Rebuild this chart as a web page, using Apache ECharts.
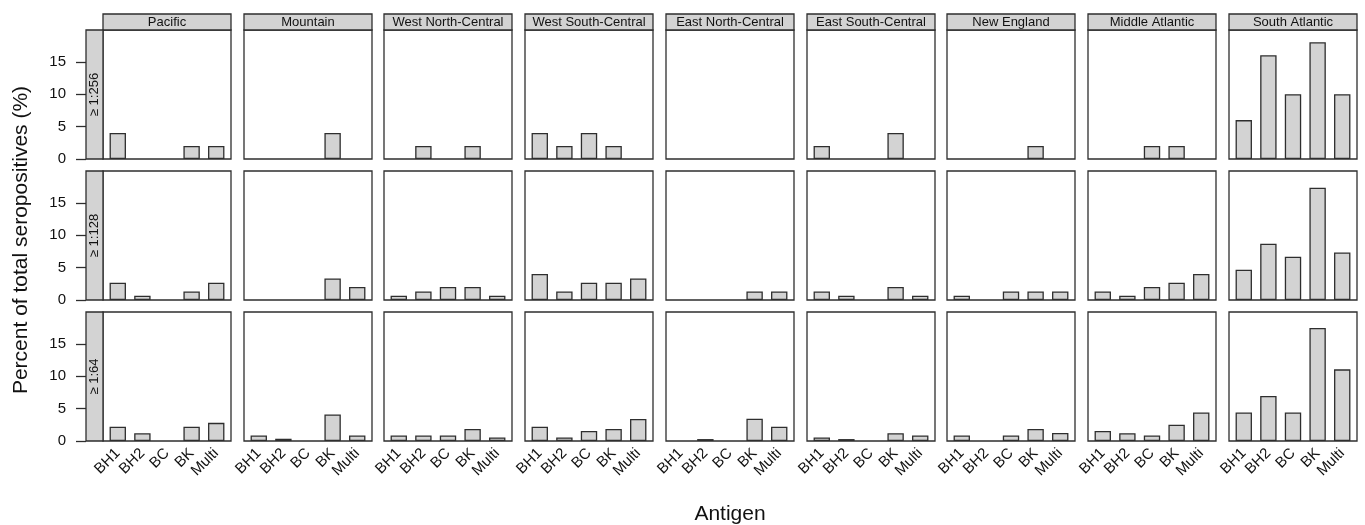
<!DOCTYPE html>
<html><head><meta charset="utf-8">
<script src="https://cdn.jsdelivr.net/npm/echarts@6/dist/echarts.min.js"></script>
<style>html,body{margin:0;padding:0;background:#fff}#c{width:1365px;height:525px}</style>
</head><body><div id="c"></div>
<script>
// ---- data ----
const antigens = ['BH1', 'BH2', 'BC', 'BK', 'Multi'];
const regions = ['Pacific', 'Mountain', 'West North-Central', 'West South-Central',
  'East North-Central', 'East South-Central', 'New England', 'Middle Atlantic', 'South Atlantic'];
const titers = ['\u2265 1:256', '\u2265 1:128', '\u2265 1:64'];
const yTicks = [0, 5, 10, 15];

// values per region, order as in regions; each inner list follows antigens
const titer256 = [
  [4, 0, 0, 2, 2],
  [0, 0, 0, 4, 0],
  [0, 2, 0, 2, 0],
  [4, 2, 4, 2, 0],
  [0, 0, 0, 0, 0],
  [2, 0, 0, 4, 0],
  [0, 0, 0, 2, 0],
  [0, 0, 2, 2, 0],
  [6, 16, 10, 18, 10]
];
const titer128 = [
  [2.67, 0.67, 0, 1.33, 2.67],
  [0, 0, 0, 3.33, 2],
  [0.67, 1.33, 2, 2, 0.67],
  [4, 1.33, 2.67, 2.67, 3.33],
  [0, 0, 0, 1.33, 1.33],
  [1.33, 0.67, 0, 2, 0.67],
  [0.67, 0, 1.33, 1.33, 1.33],
  [1.33, 0.67, 2, 2.67, 4],
  [4.67, 8.67, 6.67, 17.33, 7.33]
];
const titer64 = [
  [2.2, 1.2, 0, 2.2, 2.8],
  [0.85, 0.35, 0, 4.1, 0.85],
  [0.85, 0.85, 0.85, 1.85, 0.55],
  [2.2, 0.55, 1.55, 1.85, 3.4],
  [0, 0.3, 0, 3.45, 2.2],
  [0.55, 0.3, 0, 1.2, 0.85],
  [0.85, 0, 0.85, 1.85, 1.25],
  [1.55, 1.2, 0.85, 2.5, 4.4],
  [4.4, 6.95, 4.4, 17.45, 11.05]
];
const rowsData = [titer256, titer128, titer64];

// ---- layout ----
const FONT = '"Liberation Sans", Arial, Helvetica, sans-serif';
const TXT = '#111111';
const LINE = '#2e2e2e';
const LW = 1.3;
const FILL = '#d3d3d3';
const PW = 128, PH = 129;
const left0 = 103, colStep = 140.7;
const top0 = 30, rowStep = 141;
const STRIP = 17, TOPSTRIP = 16;

const grids = [], xAxes = [], yAxes = [], series = [], graphics = [];

for (let r = 0; r < 3; r++) {
  for (let c = 0; c < 9; c++) {
    const i = r * 9 + c;
    const L = Math.round(left0 + c * colStep);
    const T = Math.round(top0 + r * rowStep);
    grids.push({left: L, top: T, width: PW, height: PH, show: true,
      borderColor: LINE, borderWidth: LW, backgroundColor: '#fff', containLabel: false});
    xAxes.push({
      gridIndex: i, type: 'value', min: 0.4, max: 5.6,
      axisLine: {show: false}, axisTick: {show: false}, splitLine: {show: false},
      axisLabel: {
        show: r === 2, customValues: [1, 2, 3, 4, 5], rotate: 45, margin: 10,
        fontSize: 15, color: TXT, fontFamily: FONT,
        formatter: v => Number.isInteger(v) && antigens[v - 1] ? antigens[v - 1] : ''
      }
    });
    yAxes.push({
      gridIndex: i, type: 'value', min: 0, max: 19.9,
      offset: c === 0 ? STRIP : 0,
      axisLine: {show: false}, splitLine: {show: false},
      axisTick: {show: c === 0, length: 10, customValues: yTicks, lineStyle: {color: LINE, width: LW}},
      axisLabel: {
        show: c === 0, customValues: yTicks, margin: 20,
        fontSize: 15, color: TXT, fontFamily: FONT,
        formatter: v => yTicks.indexOf(v) >= 0 ? String(v) : ''
      }
    });
    const vals = rowsData[r][c];
    series.push({
      type: 'bar', xAxisIndex: i, yAxisIndex: i, barWidth: 16.4,
      silent: true, animation: false,
      itemStyle: {color: FILL, borderColor: LINE, borderWidth: LW},
      // zero-height bars are left out so they do not thicken the panel border
      data: antigens.map((a, k) => [k + 1, vals[k] === 0 ? null : vals[k]])
    });
    if (r === 0) {
      graphics.push({type: 'rect', shape: {x: L, y: T - TOPSTRIP, width: PW, height: TOPSTRIP},
        style: {fill: FILL, stroke: LINE, lineWidth: LW}, z: 10});
      graphics.push({type: 'text', x: L + PW / 2, y: T - TOPSTRIP / 2 + 0.5,
        style: {text: regions[c], fill: TXT, font: '13px ' + FONT, align: 'center', verticalAlign: 'middle'}, z: 11});
    }
    if (c === 0) {
      graphics.push({type: 'rect', shape: {x: L - STRIP, y: T, width: STRIP, height: PH},
        style: {fill: FILL, stroke: LINE, lineWidth: LW}, z: 10});
      graphics.push({type: 'text', x: L - STRIP / 2, y: T + PH / 2, rotation: Math.PI / 2,
        style: {text: titers[r], fill: TXT, font: '13px ' + FONT, align: 'center', verticalAlign: 'middle'}, z: 11});
    }
  }
}

graphics.push({type: 'text', x: 730, y: 514,
  style: {text: 'Antigen', fill: TXT, font: '21px ' + FONT, align: 'center', verticalAlign: 'middle'}});
graphics.push({type: 'text', x: 21, y: 240, rotation: Math.PI / 2,
  style: {text: 'Percent of total seropositives (%)', fill: TXT, font: '21px ' + FONT, align: 'center', verticalAlign: 'middle'}});

const chart = echarts.init(document.getElementById('c'), null, {renderer: 'canvas'});
chart.setOption({
  animation: false,
  backgroundColor: '#fff',
  grid: grids, xAxis: xAxes, yAxis: yAxes, series: series,
  graphic: {elements: graphics}
});
</script>
</body></html>
